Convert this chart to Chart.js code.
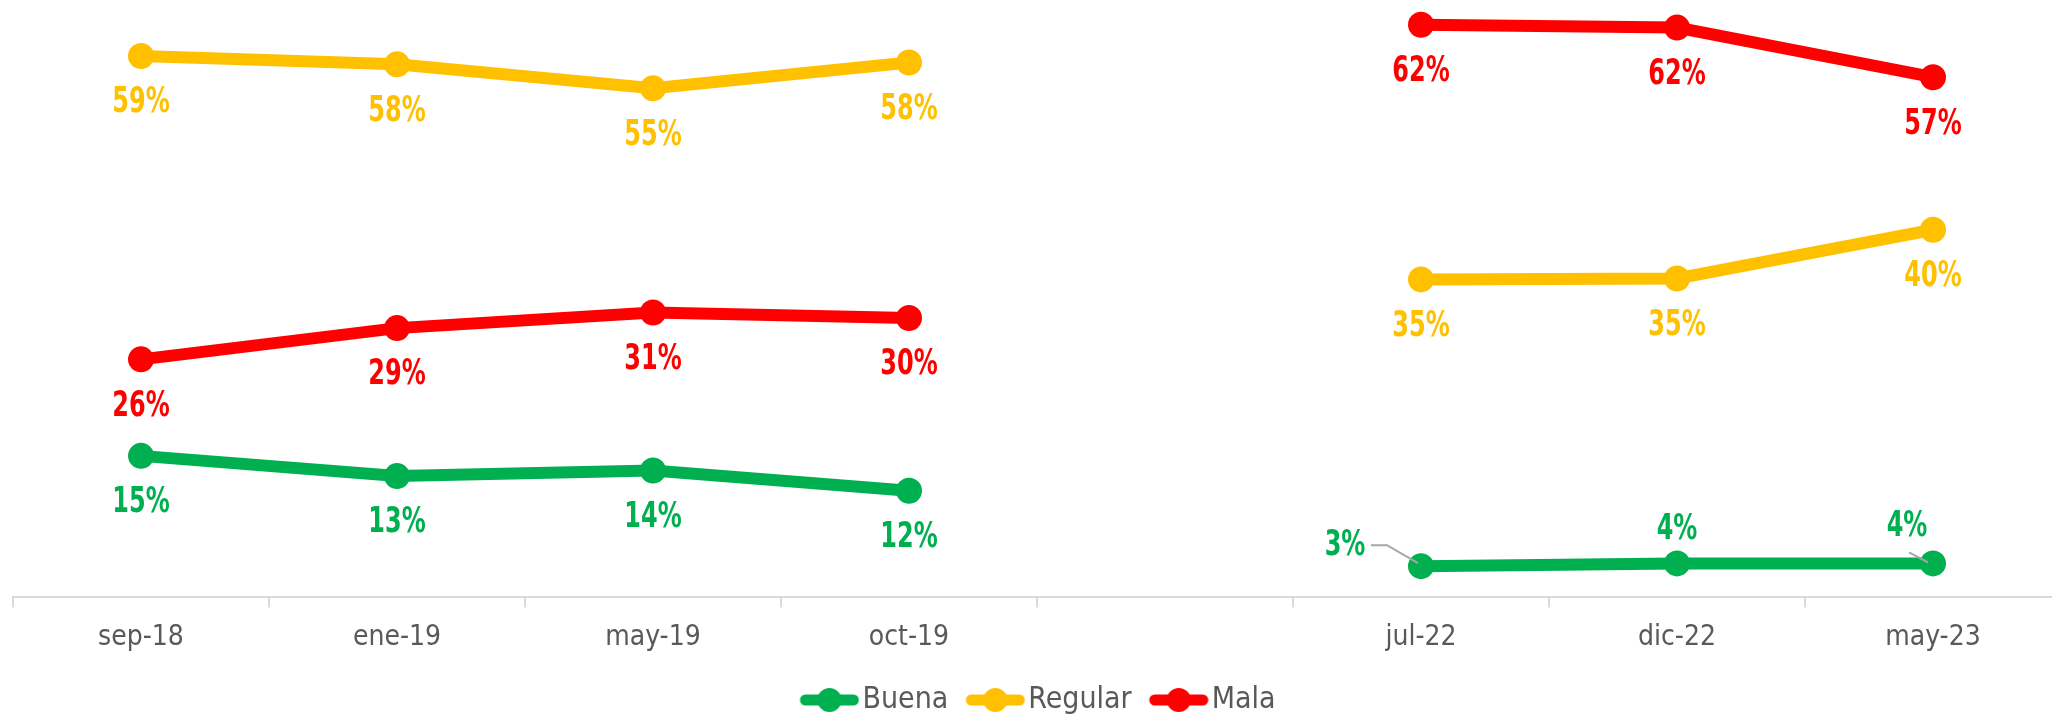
<!DOCTYPE html>
<html>
<head>
<meta charset="utf-8">
<script src="https://cdn.jsdelivr.net/npm/chart.js@4.4.1/dist/chart.umd.min.js"></script>
<style>
    html, body { margin: 0; padding: 0; background: #fff; overflow: hidden; }
    #wrap { width: 2074px; height: 725px; }
</style>
</head>
<body>
<div id="wrap"><canvas id="chart" width="2074" height="725"></canvas></div>
<script>
const periods = ['sep-18', 'ene-19', 'may-19', 'oct-19', '', 'jul-22', 'dic-22', 'may-23'];
const buena = [15.4, 13.2, 13.8, 11.6, null, 3.4, 3.7, 3.7];
const regular = [58.9, 58.0, 55.4, 58.2, null, 34.6, 34.7, 40.0];
const mala = [25.9, 29.3, 31.0, 30.4, null, 62.3, 62.0, 56.6];

const FONT = "'DejaVu Sans Condensed', 'Open Sans', sans-serif";
const GREEN = '#00B050';
const YELLOW = '#FFC000';
const RED = '#FF0000';

// where each data label goes relative to its point (default: below)
const buenaLabelPlace = ['below', 'below', 'below', 'below', null, 'leftLeader', 'above', 'aboveLeader'];

// legend symbol: thick line with a dot, with a little blank space on the left
function legendMark(color) {
    const c = document.createElement('canvas');
    c.width = 73;
    c.height = 26;
    const ctx = c.getContext('2d');
    ctx.strokeStyle = color;
    ctx.lineWidth = 11;
    ctx.lineCap = 'round';
    ctx.beginPath();
    ctx.moveTo(19, 13);
    ctx.lineTo(67, 13);
    ctx.stroke();
    ctx.fillStyle = color;
    ctx.beginPath();
    ctx.arc(43, 13, 12, 0, Math.PI * 2);
    ctx.fill();
    return c;
}
const marks = [legendMark(GREEN), legendMark(YELLOW), legendMark(RED)];

const dataLabels = {
    id: 'dataLabels',
    afterDatasetsDraw(chart) {
        const ctx = chart.ctx;
        chart.data.datasets.forEach((ds, i) => {
            const meta = chart.getDatasetMeta(i);
            meta.data.forEach((pt, j) => {
                const v = ds.data[j];
                if (v === null) return;
                const place = ds.labelPlace ? ds.labelPlace[j] : 'below';
                const txt = Math.round(v) + '%';
                let x = pt.x, y = pt.y + 47;
                ctx.save();
                ctx.strokeStyle = '#a6a6a6';
                ctx.lineWidth = 2;
                if (place === 'above') {
                    y = pt.y - 34;
                } else if (place === 'leftLeader') {
                    x = pt.x - 76;
                    y = pt.y - 21;
                    ctx.beginPath();
                    ctx.moveTo(x + 26, y);
                    ctx.lineTo(x + 42, y);
                    ctx.lineTo(pt.x - 3, pt.y - 3);
                    ctx.stroke();
                } else if (place === 'aboveLeader') {
                    x = pt.x - 26;
                    y = pt.y - 37;
                    ctx.beginPath();
                    ctx.moveTo(x + 2, y + 26);
                    ctx.lineTo(pt.x - 5, pt.y - 1);
                    ctx.stroke();
                }
                // condensed bold text, closer to the original's narrow font
                ctx.translate(x, y);
                ctx.scale(0.74, 1);
                ctx.font = 'bold 36px ' + FONT;
                ctx.textAlign = 'center';
                ctx.textBaseline = 'middle';
                ctx.fillStyle = ds.borderColor;
                ctx.fillText(txt, 0, 0);
                ctx.restore();
            });
        });
    }
};

new Chart(document.getElementById('chart'), {
    type: 'line',
    data: {
        labels: periods,
        datasets: [
            {
                label: 'Buena',
                data: buena,
                borderColor: GREEN,
                backgroundColor: GREEN,
                labelPlace: buenaLabelPlace
            },
            {
                label: 'Regular',
                data: regular,
                borderColor: YELLOW,
                backgroundColor: YELLOW
            },
            {
                label: 'Mala',
                data: mala,
                borderColor: RED,
                backgroundColor: RED
            }
        ]
    },
    options: {
        responsive: false,
        animation: false,
        spanGaps: false,
        layout: {
            autoPadding: false,
            padding: { left: 13, right: 13, top: 0, bottom: 0 }
        },
        elements: {
            line: { borderWidth: 12, tension: 0 },
            point: { pointStyle: 'circle', radius: 13, hoverRadius: 13, borderWidth: 0 }
        },
        datasets: {
            line: { clip: false }
        },
        scales: {
            x: {
                offset: true,
                grid: {
                    offset: true,
                    drawOnChartArea: false,
                    drawTicks: true,
                    tickLength: 10,
                    color: '#d9d9d9',
                    lineWidth: 2
                },
                border: { color: '#d9d9d9', width: 2 },
                ticks: {
                    color: '#595959',
                    font: { size: 28, family: FONT },
                    padding: 14,
                    maxRotation: 0,
                    autoSkip: false
                }
            },
            y: {
                display: false,
                min: 0,
                max: 65
            }
        },
        plugins: {
            legend: {
                position: 'bottom',
                labels: {
                    usePointStyle: true,
                    pointStyleWidth: 49,
                    padding: 16,
                    color: '#595959',
                    font: { size: 30, family: FONT },
                    generateLabels(chart) {
                        const items = Chart.defaults.plugins.legend.labels.generateLabels(chart);
                        items.forEach((item, i) => { item.pointStyle = marks[i]; });
                        return items;
                    }
                }
            },
            tooltip: { enabled: false }
        }
    },
    plugins: [dataLabels]
});
</script>
</body>
</html>
